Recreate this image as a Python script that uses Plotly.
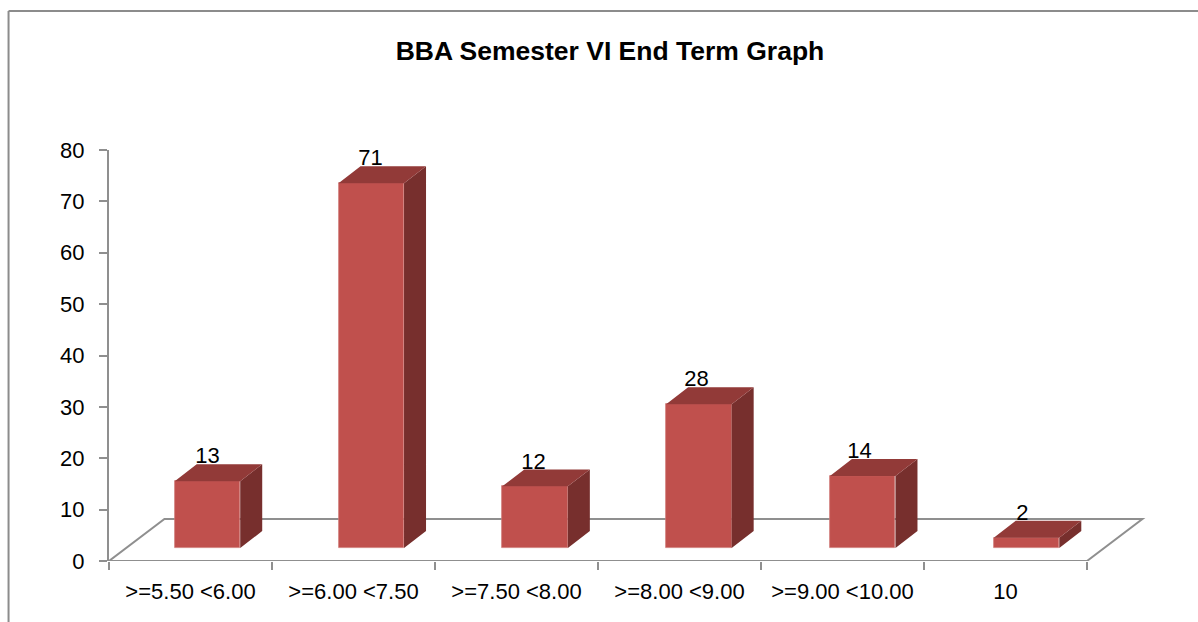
import plotly.graph_objects as go

# ---- data ----
categories = [">=5.50 <6.00", ">=6.00 <7.50", ">=7.50 <8.00", ">=8.00 <9.00", ">=9.00 <10.00", "10"]
values = [13, 71, 12, 28, 14, 2]
y_ticks = [0, 10, 20, 30, 40, 50, 60, 70, 80]
title_text = "BBA Semester VI End Term Graph"

# ---- pseudo-3D geometry, in axis units ----
BAR_W = 0.402
BAR_SHIFT = 0.104
BAR_PITCH = 1.005
BASE = 2.53
DX, DY = 0.135, 3.3
FLOOR_DX, FLOOR_DY = 0.34, 8.17

FONT = "Liberation Sans, Arial, sans-serif"
GREY = "#8f8f8f"
FRONT, TOP, SIDE = "#C0504D", "#923A38", "#772F2D"

pos = list(range(len(categories)))
centers = [p * BAR_PITCH + BAR_SHIFT for p in pos]
label_x = [p + BAR_SHIFT for p in pos]
lefts = [c - BAR_W / 2 for c in centers]
rights = [l + BAR_W for l in lefts]
tops = [BASE + v for v in values]

top_x, top_y, side_x, side_y = [], [], [], []
for l, r, t in zip(lefts, rights, tops):
    top_x += [l, l + DX, r + DX, r, l, None]
    top_y += [t, t + DY, t + DY, t, t, None]
    side_x += [r, r + DX, r + DX, r, r, None]
    side_y += [BASE, BASE + DY, t + DY, t, BASE, None]

fig = go.Figure()
fig.add_bar(x=centers, y=values, base=BASE, width=BAR_W,
            marker=dict(color=FRONT, line=dict(width=0.75, color="#cf7a77")), showlegend=False, hoverinfo="skip")
fig.add_scatter(x=side_x, y=side_y, mode="lines", fill="toself", fillcolor=SIDE,
                line=dict(width=0, color=SIDE), showlegend=False, hoverinfo="skip")
fig.add_scatter(x=top_x, y=top_y, mode="lines", fill="toself", fillcolor=TOP,
                line=dict(width=0, color=TOP), showlegend=False, hoverinfo="skip")
fig.add_scatter(x=label_x, y=[t + DY - 0.9 for t in tops], mode="text",
                text=[str(v) for v in values], textposition="top center",
                textfont=dict(family=FONT, size=22, color="#000000"),
                showlegend=False, hoverinfo="skip", cliponaxis=False)

x0, x1 = -0.5, len(categories) - 0.5
floor_path = f"M {x0} 0 L {x0 + FLOOR_DX} {FLOOR_DY} L {x1 + FLOOR_DX} {FLOOR_DY} L {x1} 0 Z"

L, T, B = 108.5, 150, 61
R = 48
PW, PH = 1198 - L - R, 622 - T - B


def px(x):
    return (x - L) / PW


def py(y):
    return (622 - B - y) / PH


fig.update_layout(
    width=1198, height=622,
    margin=dict(l=L, r=R, t=T, b=B, pad=0, autoexpand=False),
    paper_bgcolor="#ffffff", plot_bgcolor="#ffffff",
    bargap=0, showlegend=False,
    title=dict(text=f"<b>{title_text}</b>", x=610 / 1198, xanchor="center", y=1 - 51 / 622, yanchor="middle",
               font=dict(family=FONT, size=26.5, color="#000000")),
    xaxis=dict(range=[x0, x1 + 63 / 163], tickmode="array", tickvals=pos, ticktext=categories, tickangle=0,
               automargin=False, ticks="", showline=False, showgrid=False, zeroline=False,
               tickfont=dict(family=FONT, size=22, color="#000000"), ticklabelstandoff=15,
               minor=dict(tickmode="array", tickvals=[x0 + i for i in range(len(categories) + 1)],
                          ticks="outside", ticklen=8, tickcolor=GREY, tickwidth=2, showgrid=False)),
    yaxis=dict(range=[0, 80], tickmode="array", tickvals=y_ticks, ticks="outside", ticklen=8,
               automargin=False, tickcolor=GREY, tickwidth=2, showline=True, linecolor=GREY, linewidth=2,
               showgrid=False, zeroline=False,
               tickfont=dict(family=FONT, size=22, color="#000000"), ticklabelstandoff=10),
)
fig.add_shape(type="path", xref="x", yref="y", path=floor_path, layer="below",
              line=dict(color=GREY, width=2))
# outer chart frame (cropped on the right and bottom in the reference)
fig.add_shape(type="line", xref="paper", yref="paper", x0=px(8), x1=px(8), y0=py(622), y1=py(11),
              line=dict(color="#8c8c8c", width=2))
fig.add_shape(type="line", xref="paper", yref="paper", x0=px(8), x1=px(1198), y0=py(11), y1=py(11),
              line=dict(color="#8c8c8c", width=2))

fig.write_html("out.html", config=dict(displayModeBar=False), post_script="document.body.style.margin='0';")
